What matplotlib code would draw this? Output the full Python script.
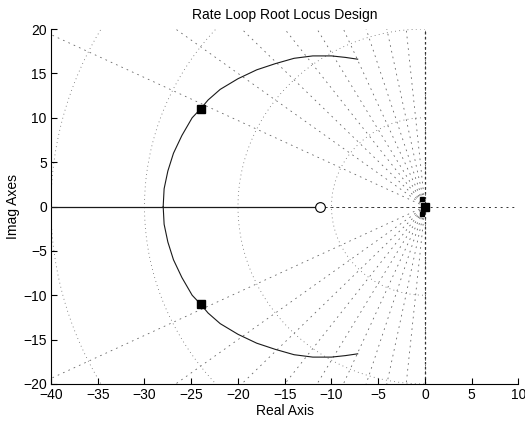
import numpy as np
import matplotlib
matplotlib.use('Agg')
import matplotlib.pyplot as plt

plt.rcParams['font.family'] = ['Liberation Sans', 'DejaVu Sans']

# open-loop poles / zeros
pole_re = [-24.0, -24.0, 0.0]
pole_im = [11.0, -11.0, 0.0]
small_pole_re = [-0.3, -0.3]
small_pole_im = [0.9, -0.9]
zero_re = [-11.2]
zero_im = [0.0]

# complex branch of the locus (upper half, mirrored below)
arc_re = [-28.0, -27.9, -27.5, -26.9, -26.0, -24.9, -24.0, -23.2, -21.9,
          -20.0, -18.0, -16.0, -14.0, -12.0, -10.0, -8.5, -7.2]
arc_im = [0.0, 2.0, 4.0, 6.0, 8.0, 10.0, 11.0, 12.0, 13.2,
          14.4, 15.4, 16.1, 16.7, 16.97, 16.97, 16.8, 16.6]

# real-axis branch
real_re = [-40.0, -11.2]
real_im = [0.0, 0.0]

# s-plane grid values
zetas = [0.0, 0.1, 0.2, 0.3, 0.4, 0.5, 0.6, 0.7, 0.8, 0.9, 1.0]
wns = [10, 20, 30, 40, 50]

fig = plt.figure(figsize=(5.25, 4.23), dpi=100)
ax = fig.add_axes([0.0971, 0.0922, 0.8905, 0.8392])

gc = '0.4'
# damping ratio rays
for z in zetas:
    th = np.arccos(z)
    r = np.array([0, 60])
    for s in (1, -1):
        ax.plot(-r * np.cos(th), s * r * np.sin(th), color=gc, lw=0.6,
                ls=(0, (2, 5)), zorder=1)
# natural frequency circles
t = np.linspace(np.pi / 2, 3 * np.pi / 2, 300)
for w in wns:
    ax.plot(w * np.cos(t), w * np.sin(t), color=gc, lw=0.6, ls=(0, (1, 4)), zorder=1)

# axis lines drawn by rlocus
ax.axhline(0, color='0.2', lw=0.7, ls=(0, (2, 4)), zorder=1)
ax.axvline(0, color='0.2', lw=0.9, ls=(0, (2, 2)), zorder=1)

# locus
ax.plot(arc_re, arc_im, color='0.1', lw=0.8, zorder=3)
ax.plot(arc_re, [-v for v in arc_im], color='0.1', lw=0.8, zorder=3)
ax.plot(real_re, real_im, color='0.1', lw=0.9, zorder=3)

ax.plot(pole_re, pole_im, 's', color='k', ms=5.5, zorder=4)
ax.plot(small_pole_re, small_pole_im, 's', color='k', ms=3, zorder=4)
ax.plot(zero_re, zero_im, 'o', mfc='white', mec='k', ms=7, mew=0.8, zorder=4)

ax.set_xlim(-40, 10)
ax.set_ylim(-20, 20)
ax.set_xticks(np.arange(-40, 11, 5))
ax.set_yticks(np.arange(-20, 21, 5))
ax.spines['top'].set_visible(False)
ax.spines['right'].set_visible(False)
ax.tick_params(direction='in', length=4, labelsize=10, pad=3)

ax.set_title('Rate Loop Root Locus Design', fontsize=10, pad=7)
ax.set_xlabel('Real Axis', fontsize=10, labelpad=1)
ax.set_ylabel('Imag Axes', fontsize=10, labelpad=2)

fig.savefig('out.png', dpi=100)
